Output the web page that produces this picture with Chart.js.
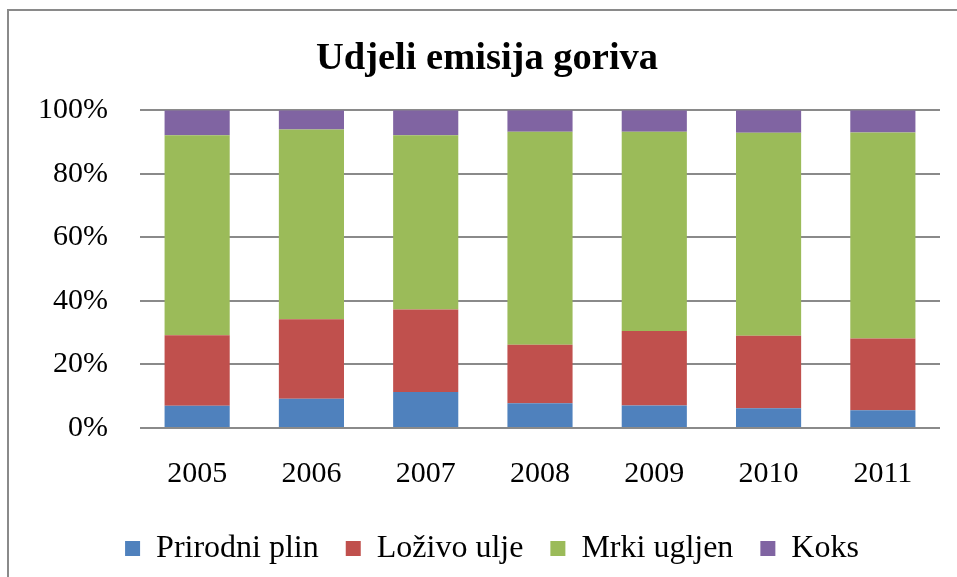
<!DOCTYPE html>
<html>
<head>
<meta charset="utf-8">
<script src="https://cdn.jsdelivr.net/npm/chart.js@4"></script>
<style>
  html, body { margin: 0; padding: 0; background: #fff; overflow: hidden; }
  #wrap { position: relative; width: 957px; height: 577px; }
  #frame { position: absolute; left: 7px; top: 9px; width: 1000px; height: 700px; border: 2px solid #8a8a8a; box-sizing: border-box; }
  #c { position: absolute; left: 0; top: 0; }
</style>
</head>
<body>
<div id="wrap">
  <div id="frame"></div>
  <canvas id="c" width="957" height="577"></canvas>
</div>
<script>
const years = ['2005', '2006', '2007', '2008', '2009', '2010', '2011'];
const prirodniPlin = [7.0, 9.2, 11.3, 7.8, 7.1, 6.2, 5.6];
const lozivoUlje   = [22.2, 25.0, 26.0, 18.4, 23.4, 22.8, 22.6];
const mrkiUgljen   = [62.9, 59.7, 54.8, 67.0, 62.7, 63.9, 64.8];
const koks         = [7.9, 6.1, 7.9, 6.8, 6.8, 7.1, 7.0];
const yTicks = [0, 20, 40, 60, 80, 100];

const serif = "'Liberation Serif', 'Times New Roman', serif";

const mk = (label, data, color) => ({
  label, data, backgroundColor: color, borderWidth: 0,
  categoryPercentage: 1.0, barPercentage: 0.57
});

const shiftBlocks = {
  id: 'shiftBlocks',
  afterLayout(chart) {
    if (chart.titleBlock) { chart.titleBlock.left += 17; chart.titleBlock.right += 17; }
    if (chart.legend) { chart.legend.left += 22; chart.legend.right += 22; }
  }
};

new Chart(document.getElementById('c'), {
  type: 'bar',
  data: {
    labels: years,
    datasets: [
      mk('Prirodni plin', prirodniPlin, '#4F81BD'),
      mk('Loživo ulje', lozivoUlje, '#C0504D'),
      mk('Mrki ugljen', mrkiUgljen, '#9BBB59'),
      mk('Koks', koks, '#8064A2')
    ]
  },
  plugins: [shiftBlocks],
  options: {
    responsive: false,
    animation: false,
    layout: { padding: { left: 0, right: 17, top: 0, bottom: 2.5 } },
    plugins: {
      title: {
        display: true,
        text: 'Udjeli emisija goriva',
        color: '#000',
        font: { family: serif, size: 38.5, weight: 'bold' },
        padding: { top: 36, bottom: 28 }
      },
      legend: {
        position: 'bottom',
        labels: {
          color: '#000',
          font: { family: serif, size: 32 },
          boxWidth: 15, boxHeight: 15, padding: 27
        }
      },
      tooltip: { enabled: false }
    },
    scales: {
      x: {
        stacked: true,
        grid: { display: false },
        border: { display: false },
        afterFit: (s) => { s.height = 77.5; },
        ticks: { color: '#000', font: { family: serif, size: 30 }, padding: 20 }
      },
      y: {
        stacked: true,
        min: 0, max: 100,
        afterBuildTicks: (s) => { s.ticks = yTicks.map(v => ({ value: v })); },
        afterFit: (s) => { s.width = 140; },
        grid: { color: '#8a8a8a', lineWidth: 2, drawTicks: false },
        border: { display: false },
        ticks: {
          color: '#000', font: { family: serif, size: 30 }, padding: 32,
          callback: (v) => v + '%'
        }
      }
    }
  }
});
</script>
</body>
</html>
